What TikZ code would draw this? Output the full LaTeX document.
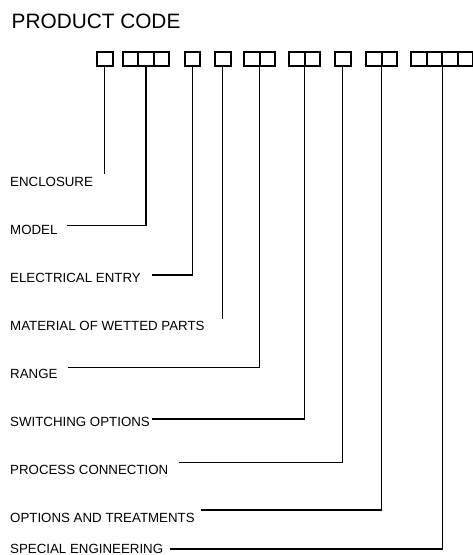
\documentclass[tikz,border=0pt]{standalone}
\usepackage{fontspec}
\setmainfont{Liberation Sans}
\begin{document}
\begin{tikzpicture}[x=1pt, y=-1pt,
            cell/.style={draw, line width=2pt, minimum width=15.6pt,
                minimum height=14pt, inner sep=0pt, outer sep=0pt},
            tag/.style={anchor=base west, inner sep=0pt,
                font=\fontsize{13.3}{15}\selectfont},
            lead/.style={line width=1.2pt},
        ]
            \useasboundingbox (0, 0) rectangle (472, 555);
            \node[tag, font=\fontsize{20.8}{24}\selectfont] (title) at (11.5, 28.5) {PRODUCT CODE};
            % code cells
            \foreach \nm/\x in {enc/104.8, mod1/130.3, mod2/145.9, mod3/161.5, ele/192.6,
                mat/222.8, ran1/251.8, ran2/267.4, swi1/296.8, swi2/312.4, pro/342.8,
                opt1/373.8, opt2/389.4, spe1/418.8, spe2/434.4, spe3/450, spe4/465.6}
                \node[cell] (\nm) at (\x, 58.5) {};
            % labels
            \node[tag] (enclosure) at (10, 186) {ENCLOSURE};
            \node[tag] (model) at (10, 234) {MODEL};
            \node[tag] (electrical) at (10, 282) {ELECTRICAL ENTRY};
            \node[tag] (material) at (10, 330) {MATERIAL OF WETTED PARTS};
            \node[tag] (range) at (10, 378) {RANGE};
            \node[tag] (switching) at (10, 426) {SWITCHING OPTIONS};
            \node[tag] (process) at (10, 474) {PROCESS CONNECTION};
            \node[tag] (options) at (10, 522) {OPTIONS AND TREATMENTS};
            \node[tag] (special) at (10, 553) {SPECIAL ENGINEERING};
            % lead ends
            \coordinate (encend) at (104.8, 174);
            \coordinate (modend) at (66.7, 225.7);
            \coordinate (eleend) at (151.7, 275);
            \coordinate (matend) at (222.8, 319.3);
            \coordinate (ranend) at (67.7, 367.7);
            \coordinate (swiend) at (151.7, 419);
            \coordinate (proend) at (179, 462.7);
            \coordinate (optend) at (201, 510);
            \coordinate (speend) at (170, 549);
            \draw[lead] (enc.south) -- (encend);
            \draw[lead] (mod2.south) |- (modend);
            \draw[lead] (ele.south) |- (eleend);
            \draw[lead] (mat.south) -- (matend);
            \draw[lead] (ran1.south east) |- (ranend);
            \draw[lead] (swi1.south east) |- (swiend);
            \draw[lead] (pro.south) |- (proend);
            \draw[lead] (opt1.south east) |- (optend);
            \draw[lead] (spe2.south east) |- (speend);
        \end{tikzpicture}
\end{document}
